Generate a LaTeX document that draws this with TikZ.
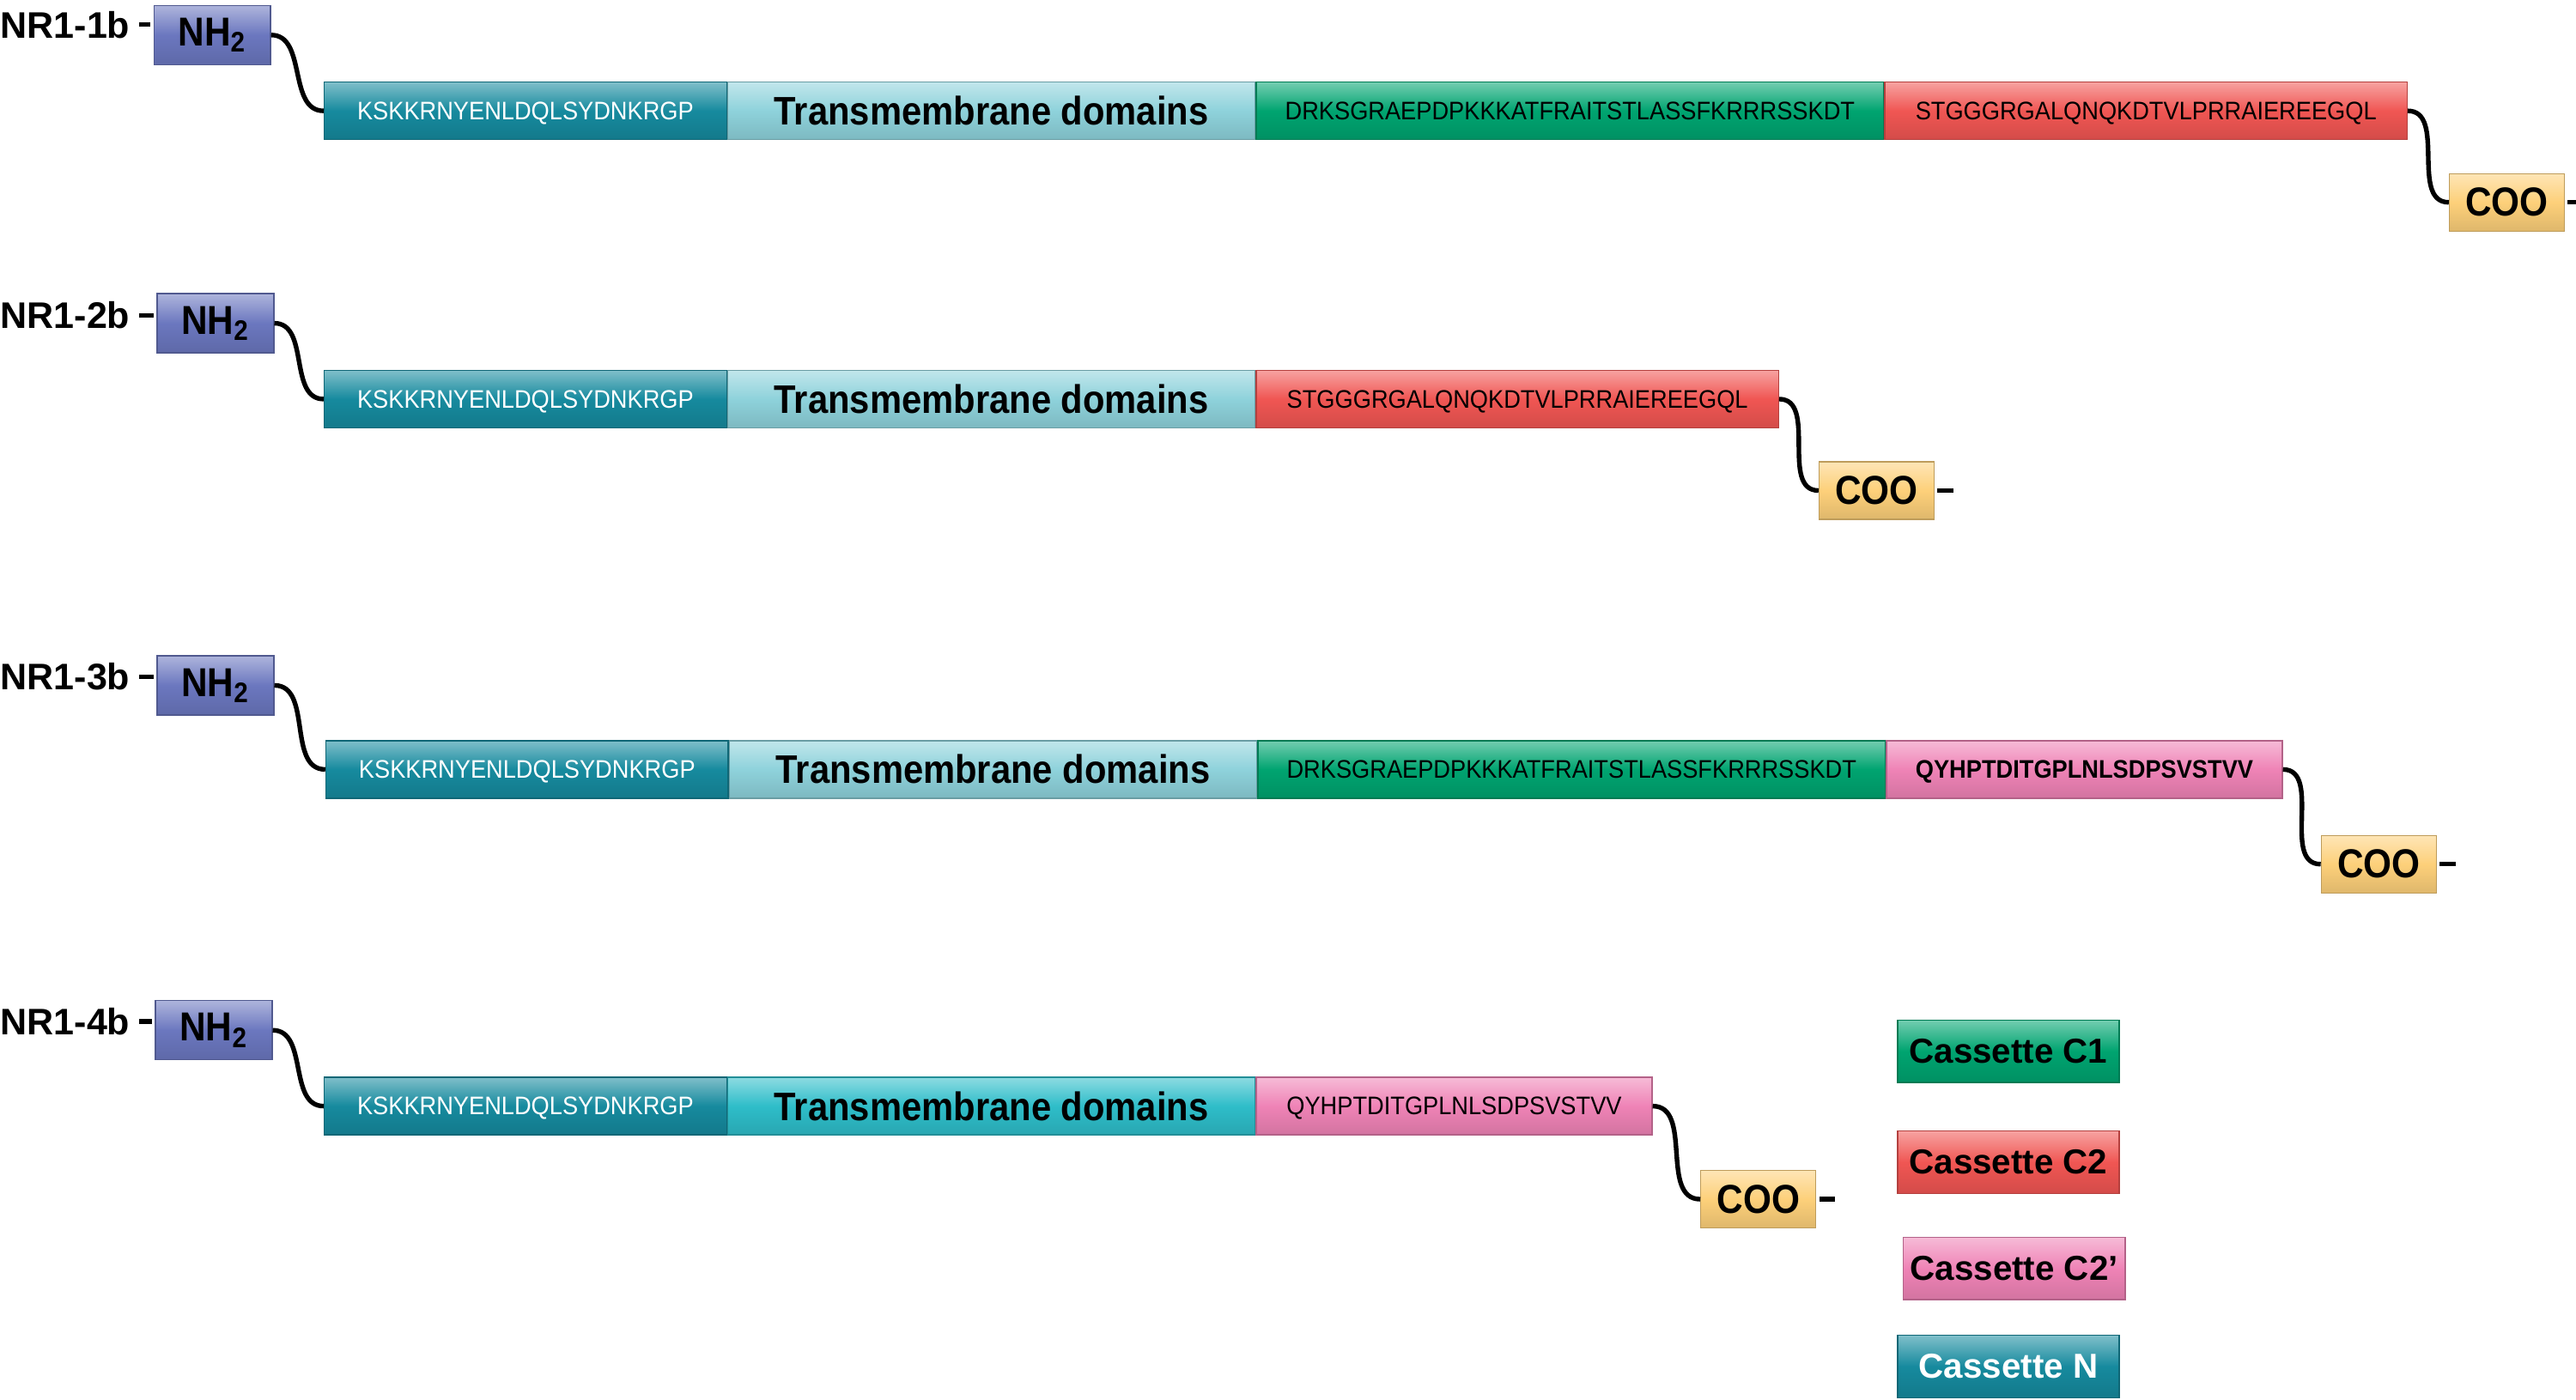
\documentclass[tikz,border=0pt]{standalone}
\usepackage{fontspec}
\setmainfont{Liberation Sans}
\newfontfamily\seqsans[FakeStretch=0.92]{Liberation Sans}
\newfontfamily\narrowsans[FakeStretch=0.9]{Liberation Sans}
\usetikzlibrary{positioning}
\definecolor{nhblue}{HTML}{6B77BF}
\definecolor{nteal}{HTML}{168A9E}
\definecolor{tmlight}{HTML}{8ED2DB}
\definecolor{tmcyan}{HTML}{2EBDC9}
\definecolor{cgreen}{HTML}{00A470}
\definecolor{cred}{HTML}{F05653}
\definecolor{cpink}{HTML}{EF83B6}
\definecolor{cooyel}{HTML}{FDD07A}
\newcommand\seqfont{\seqsans\fontsize{8.8}{10}\selectfont}
\newcommand\tmfont{\narrowsans\bfseries\fontsize{13.8}{16}\selectfont}
\newcommand\termfont{\narrowsans\bfseries\fontsize{14}{16}\selectfont}
\newcommand\keyfont{\bfseries\fontsize{12}{14}\selectfont}
\tikzset{
    % one domain of the chain
    dom/.style={
      rectangle,
      draw=#1!75!black, thin,
      top color=#1!55!white,
      bottom color=#1!88!black,
      middle color=#1,
      minimum height=0.7cm,
      inner sep=0pt,
      text centered},
    seq/.style={text depth=0pt, font=\seqfont},
    nterm/.style={dom=nhblue,
      minimum width=1.42cm, minimum height=0.72cm, font=\termfont},
    cterm/.style={dom=cooyel,
      minimum width=1.4cm, font=\termfont},
    ncas/.style={dom=nteal, seq, text=white,
      minimum width=4.9cm},
    tm/.style={dom=tmlight,
      minimum width=6.42cm, font=\tmfont},
    cone/.style={dom=cgreen, seq,
      minimum width=7.64cm},
    ctwo/.style={dom=cred, seq,
      minimum width=6.36cm},
    ctwop/.style={dom=cpink, seq,
      minimum width=4.82cm},
    keybox/.style={dom=#1,
      minimum width=2.7cm, minimum height=0.76cm, font=\keyfont},
    rowlab/.style={anchor=west, inner sep=0pt, font=\bfseries\fontsize{12.8}{14}\selectfont},
    wire/.style={line width=1.6pt, black},
    tick/.style={line width=1.6pt, black},
}
\begin{document}
\begin{tikzpicture}[x=0.02cm, y=-0.02cm, node distance=0pt]
    \useasboundingbox (0,0) rectangle (1568,852.4);
    % NR1-1b
    \node (n1) [ncas, anchor=west] at (197,67.5)
          {KSKKRNYENLDQLSYDNKRGP};
    \node (tm1) [tm] [right=of n1]
          {Transmembrane domains};
    \node (ca1) [cone] [right=of tm1]
          {DRKSGRAEPDPKKKATFRAITSTLASSFKRRRSSKDT};
    \node (cb1) [ctwo] [right=of ca1]
          {STGGGRGALQNQKDTVLPRRAIEREEGQL};
    \node (nh1) [nterm] [above left=0.2cm and 0.64cm of n1, anchor=south east]
          {NH\textsubscript{2}}
          edge [wire, out=0, in=180] (n1);
    \node (coo1) [cterm] [below right=0.4cm and 0.5cm of cb1, anchor=north west]
          {COO}
          edge [wire, out=180, in=0] (cb1);
    \node (lab1) [rowlab] at (0,15) {NR1-1b};
    \coordinate (end1) at ([xshift=6.5pt]coo1.east);
    \draw [tick, shorten <=3pt, shorten >=1pt] (lab1.east) -- (lab1.east -| nh1.west);
    \draw [tick, shorten <=1pt] (coo1.east) -- (end1);

    % NR1-2b
    \node (n2) [ncas, anchor=west] at (197,243)
          {KSKKRNYENLDQLSYDNKRGP};
    \node (tm2) [tm] [right=of n2]
          {Transmembrane domains};
    \node (cb2) [ctwo] [right=of tm2]
          {STGGGRGALQNQKDTVLPRRAIEREEGQL};
    \node (nh2) [nterm] [above left=0.2cm and 0.6cm of n2, anchor=south east]
          {NH\textsubscript{2}}
          edge [wire, out=0, in=180] (n2);
    \node (coo2) [cterm] [below right=0.4cm and 0.48cm of cb2, anchor=north west]
          {COO}
          edge [wire, out=180, in=0] (cb2);
    \node (lab2) [rowlab] at (0,192) {NR1-2b};
    \coordinate (end2) at ([xshift=6.5pt]coo2.east);
    \draw [tick, shorten <=3pt, shorten >=1pt] (lab2.east) -- (lab2.east -| nh2.west);
    \draw [tick, shorten <=1pt] (coo2.east) -- (end2);

    % NR1-3b
    \node (n3) [ncas, anchor=west] at (198,468.5)
          {KSKKRNYENLDQLSYDNKRGP};
    \node (tm3) [tm] [right=of n3]
          {Transmembrane domains};
    \node (ca3) [cone] [right=of tm3]
          {DRKSGRAEPDPKKKATFRAITSTLASSFKRRRSSKDT};
    \node (cc3) [ctwop, font=\seqfont\bfseries] [right=of ca3]
          {QYHPTDITGPLNLSDPSVSTVV};
    \node (nh3) [nterm] [above left=0.3cm and 0.62cm of n3, anchor=south east]
          {NH\textsubscript{2}}
          edge [wire, out=0, in=180] (n3);
    \node (coo3) [cterm] [below right=0.44cm and 0.46cm of cc3, anchor=north west]
          {COO}
          edge [wire, out=180, in=0] (cc3);
    \node (lab3) [rowlab] at (0,412) {NR1-3b};
    \coordinate (end3) at ([xshift=6.5pt]coo3.east);
    \draw [tick, shorten <=3pt, shorten >=1pt] (lab3.east) -- (lab3.east -| nh3.west);
    \draw [tick, shorten <=1pt] (coo3.east) -- (end3);

    % NR1-4b
    \node (n4) [ncas, anchor=west] at (197,673.5)
          {KSKKRNYENLDQLSYDNKRGP};
    \node (tm4) [tm, dom=tmcyan] [right=of n4]
          {Transmembrane domains};
    \node (cc4) [ctwop] [right=of tm4]
          {QYHPTDITGPLNLSDPSVSTVV};
    \node (nh4) [nterm] [above left=0.2cm and 0.62cm of n4, anchor=south east]
          {NH\textsubscript{2}}
          edge [wire, out=0, in=180] (n4);
    \node (coo4) [cterm] [below right=0.42cm and 0.58cm of cc4, anchor=north west]
          {COO}
          edge [wire, out=180, in=0] (cc4);
    \node (lab4) [rowlab] at (0,622) {NR1-4b};
    \coordinate (end4) at ([xshift=6.5pt]coo4.east);
    \draw [tick, shorten <=3pt, shorten >=1pt] (lab4.east) -- (lab4.east -| nh4.west);
    \draw [tick, shorten <=1pt] (coo4.east) -- (end4);

    % key
    \node (keyc1) [keybox=cgreen] at (1222.5,640) {Cassette C1};
    \node (keyc2) [keybox=cred] [below=0.58cm of keyc1] {Cassette C2};
    \node (keyc2p) [keybox=cpink] [below=0.52cm of keyc2, xshift=2pt] {Cassette C2’};
    \node (keyn) [keybox=nteal, text=white] [below=0.42cm of keyc2p, xshift=-2pt] {Cassette N};
\end{tikzpicture}
\end{document}
